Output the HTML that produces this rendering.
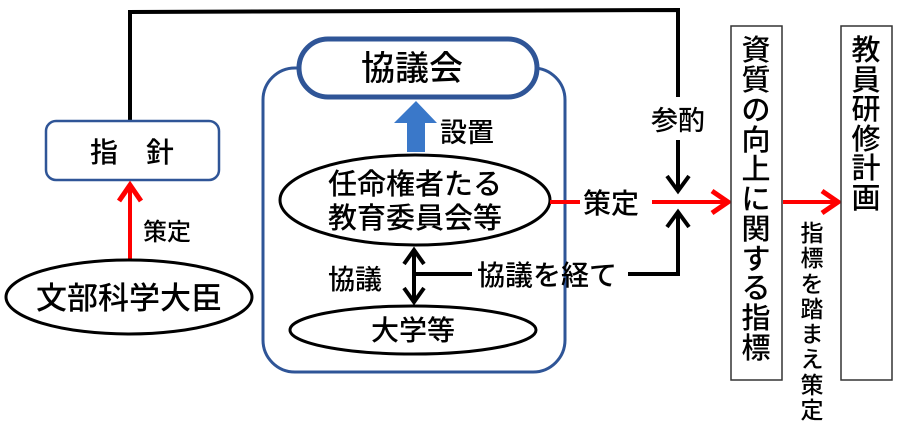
<!DOCTYPE html>
<html><head><meta charset="utf-8"><style>
html,body{margin:0;padding:0;background:#fff;}
svg text{font-family:"Liberation Sans","Noto Sans CJK JP",sans-serif;fill:#000;font-weight:500;}
</style></head><body>
<svg width="900" height="430" viewBox="0 0 900 430" xmlns="http://www.w3.org/2000/svg">
<!-- top connector -->
<polyline points="130,120 130,12 678,10 678,97" fill="none" stroke="#000" stroke-width="4"/>
<line x1="678" y1="140" x2="678" y2="191" stroke="#000" stroke-width="4"/>
<polyline points="667,176 678,191 689,176" fill="none" stroke="#000" stroke-width="4"/>
<text x="678" y="130" font-size="27" text-anchor="middle">参酌</text>

<!-- 指針 -->
<rect x="46" y="121" width="173" height="59" rx="10" fill="#fff" stroke="#2f5597" stroke-width="2.5"/>
<text x="132" y="162" font-size="28" text-anchor="middle">指　針</text>
<line x1="130" y1="260" x2="130" y2="186" stroke="#f00" stroke-width="4"/>
<polyline points="119,201 130,185 141,201" fill="none" stroke="#f00" stroke-width="5"/>
<text x="143" y="240" font-size="24">策定</text>
<ellipse cx="129" cy="297" rx="123" ry="37" fill="#fff" stroke="#000" stroke-width="3"/>
<text x="129" y="309" font-size="31" text-anchor="middle">文部科学大臣</text>

<!-- container -->
<rect x="263" y="68" width="302" height="304" rx="32" fill="none" stroke="#2f5597" stroke-width="3"/>
<rect x="299" y="39" width="238" height="58" rx="29" fill="#fff" stroke="#2f5597" stroke-width="5"/>
<text x="412" y="80" font-size="34" text-anchor="middle">協議会</text>
<polygon points="416,101 437,123 425,123 425,152 407,152 407,123 394,123" fill="#3a78c9"/>
<text x="440" y="142" font-size="27">設置</text>

<ellipse cx="415" cy="200" rx="135" ry="45" fill="#fff" stroke="#000" stroke-width="3"/>
<text x="415" y="194" font-size="29" text-anchor="middle">任命権者たる</text>
<text x="415" y="228" font-size="29" text-anchor="middle">教育委員会等</text>

<line x1="414" y1="250" x2="414" y2="300" stroke="#000" stroke-width="4"/>
<polyline points="404,264 414,250 424,264" fill="none" stroke="#000" stroke-width="4"/>
<polyline points="404,288 414,302 424,288" fill="none" stroke="#000" stroke-width="4"/>
<text x="328" y="289" font-size="27">協議</text>
<line x1="414" y1="274" x2="472" y2="274" stroke="#000" stroke-width="4"/>
<text x="477" y="285" font-size="28">協議を経て</text>
<polyline points="628,274 678,274 678,213" fill="none" stroke="#000" stroke-width="4"/>
<polyline points="667,227 678,212 689,227" fill="none" stroke="#000" stroke-width="4"/>

<ellipse cx="413" cy="330" rx="123" ry="24" fill="#fff" stroke="#000" stroke-width="3"/>
<text x="413" y="340" font-size="28" text-anchor="middle">大学等</text>

<!-- 策定 red -->
<line x1="550" y1="202" x2="580" y2="202" stroke="#f00" stroke-width="4"/>
<text x="583" y="213" font-size="28">策定</text>
<line x1="652" y1="202" x2="727" y2="202" stroke="#f00" stroke-width="4"/>
<polyline points="712,191 728,202 712,213" fill="none" stroke="#f00" stroke-width="5"/>

<rect x="731" y="26" width="51" height="354" fill="#fff" stroke="#333" stroke-width="1.5"/>
<g font-size="29" text-anchor="middle">
<text x="756" y="60">資</text><text x="756" y="90">質</text><text x="756" y="120">の</text><text x="756" y="150">向</text><text x="756" y="179">上</text><text x="756" y="209">に</text><text x="756" y="239">関</text><text x="756" y="269">す</text><text x="756" y="298">る</text><text x="756" y="328">指</text><text x="756" y="358">標</text>
</g>
<line x1="783" y1="202" x2="836" y2="202" stroke="#f00" stroke-width="4"/>
<polyline points="822,191 838,202 822,213" fill="none" stroke="#f00" stroke-width="5"/>
<g font-size="23" text-anchor="middle">
<text x="812" y="241">指</text><text x="812" y="266">標</text><text x="812" y="292">を</text><text x="812" y="317">踏</text><text x="812" y="342">ま</text><text x="812" y="367">え</text><text x="812" y="393">策</text><text x="812" y="418">定</text>
</g>
<rect x="841" y="26" width="51" height="354" fill="#fff" stroke="#333" stroke-width="1.5"/>
<g font-size="29" text-anchor="middle">
<text x="866" y="60">教</text><text x="866" y="90">員</text><text x="866" y="119">研</text><text x="866" y="149">修</text><text x="866" y="178">計</text><text x="866" y="208">画</text>
</g>
</svg>
</body></html>
